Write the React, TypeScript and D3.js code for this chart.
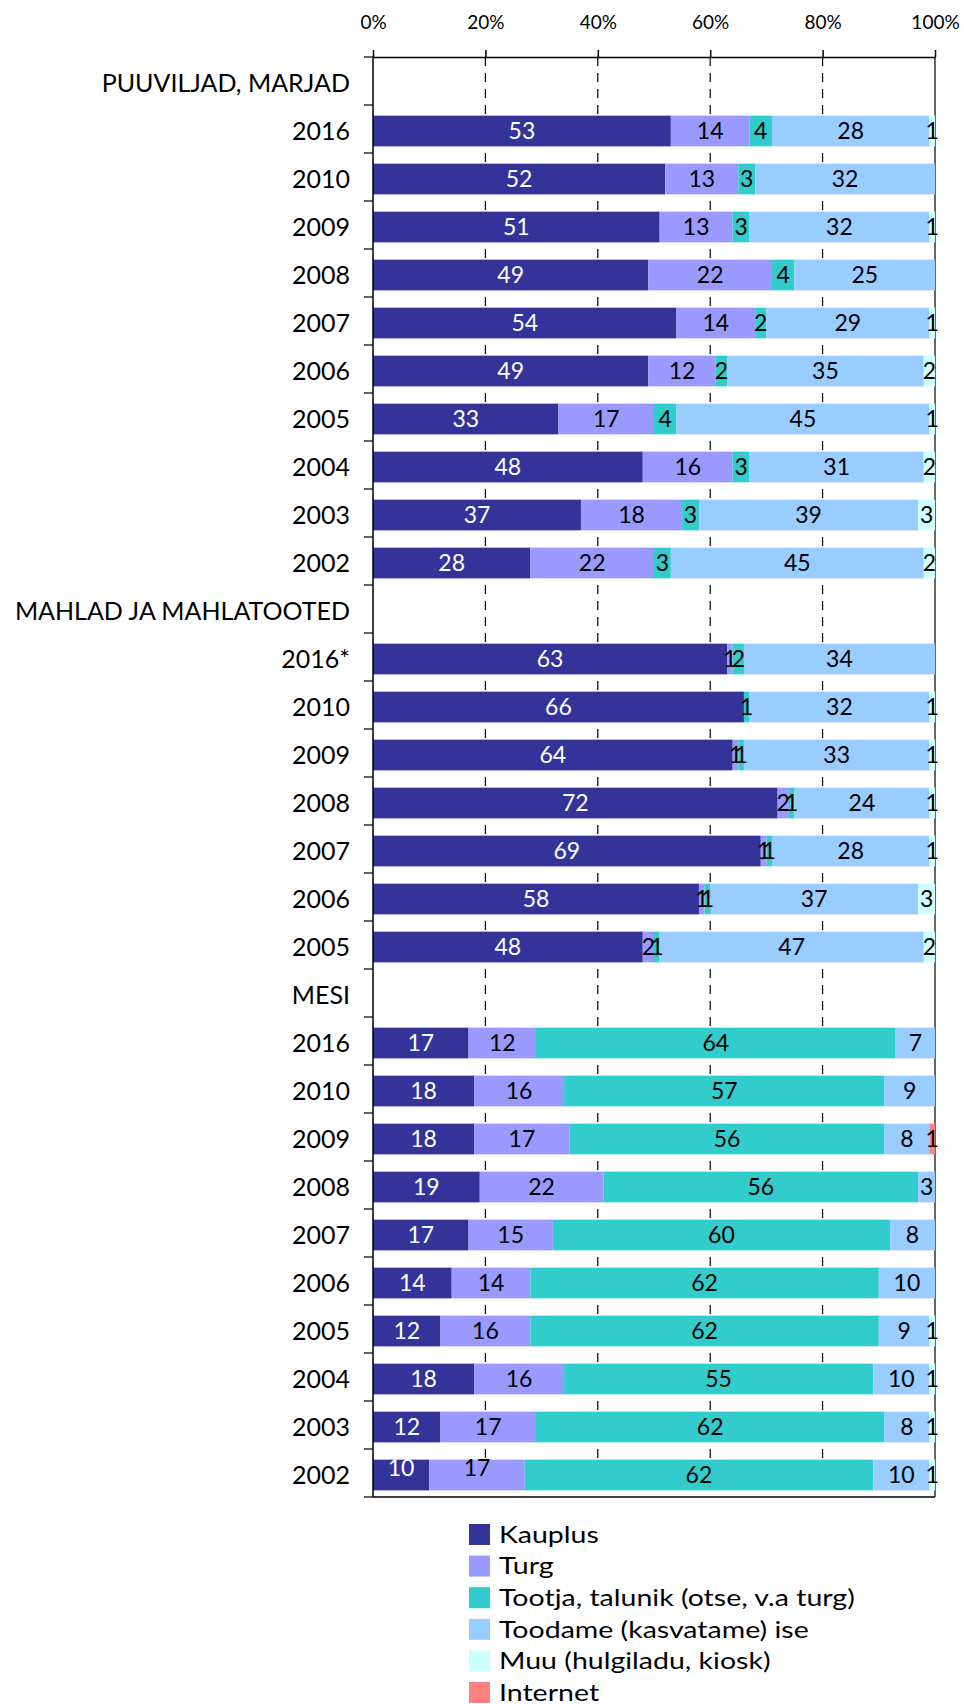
import React, { useRef, useEffect } from "react";
import * as d3 from "d3";

// legend order = stack order
const seriesNames = [
  "Kauplus",
  "Turg",
  "Tootja, talunik (otse, v.a turg)",
  "Toodame (kasvatame) ise",
  "Muu (hulgiladu, kiosk)",
  "Internet",
];
const seriesColors = ["#333399", "#9999ff", "#33cccc", "#99ccff", "#ccffff", "#ff8080"];

const groupNames = ["PUUVILJAD, MARJAD", "MAHLAD JA MAHLATOOTED", "MESI"];

const fruitYears = ["2016", "2010", "2009", "2008", "2007", "2006", "2005", "2004", "2003", "2002"];
// Kauplus, Turg, Tootja, Toodame ise, Muu, Internet
const fruitValues = [
  [53, 14, 4, 28, 1, 0],
  [52, 13, 3, 32, 0, 0],
  [51, 13, 3, 32, 1, 0],
  [49, 22, 4, 25, 0, 0],
  [54, 14, 2, 29, 1, 0],
  [49, 12, 2, 35, 2, 0],
  [33, 17, 4, 45, 1, 0],
  [48, 16, 3, 31, 2, 0],
  [37, 18, 3, 39, 3, 0],
  [28, 22, 3, 45, 2, 0],
];

const juiceYears = ["2016*", "2010", "2009", "2008", "2007", "2006", "2005"];
const juiceValues = [
  [63, 1, 2, 34, 0, 0],
  [66, 0, 1, 32, 1, 0],
  [64, 1, 1, 33, 1, 0],
  [72, 2, 1, 24, 1, 0],
  [69, 1, 1, 28, 1, 0],
  [58, 1, 1, 37, 3, 0],
  [48, 2, 1, 47, 2, 0],
];

const honeyYears = ["2016", "2010", "2009", "2008", "2007", "2006", "2005", "2004", "2003", "2002"];
const honeyValues = [
  [17, 12, 64, 7, 0, 0],
  [18, 16, 57, 9, 0, 0],
  [18, 17, 56, 8, 0, 1],
  [19, 22, 56, 3, 0, 0],
  [17, 15, 60, 8, 0, 0],
  [14, 14, 62, 10, 0, 0],
  [12, 16, 62, 9, 1, 0],
  [18, 16, 55, 10, 1, 0],
  [12, 17, 62, 8, 1, 0],
  [10, 17, 62, 10, 1, 0],
];

const xTicks = [0, 20, 40, 60, 80, 100];

const FONT = "Lato, 'Open Sans', sans-serif";

function App() {
  const svgRef = useRef<SVGSVGElement>(null);

  useEffect(() => {
    const svg = d3.select(svgRef.current);
    svg.selectAll("*").remove();

    // one row per header and per year
    const rows: { id: string; label: string; values: number[] | null; nudge: boolean }[] = [];
    const blocks = [
      [fruitYears, fruitValues],
      [juiceYears, juiceValues],
      [honeyYears, honeyValues],
    ] as [string[], number[][]][];
    blocks.forEach(([years, vals], g) => {
      rows.push({ id: "h" + g, label: groupNames[g], values: null, nudge: false });
      years.forEach((yr, i) =>
        rows.push({ id: g + "-" + i, label: yr, values: vals[i], nudge: g === 2 && i === years.length - 1 })
      );
    });

    const top = 57;
    const bottom = 1497;
    const x = d3.scaleLinear().domain([0, 100]).range([373, 935]);
    // bars sit a little low in each slot, like the original
    const y = d3
      .scaleBand()
      .domain(rows.map((r) => r.id))
      .range([top + 2, bottom + 2])
      .paddingInner(0.36)
      .paddingOuter(0.18);

    // gridlines
    svg
      .append("g")
      .selectAll("line")
      .data(xTicks.slice(1))
      .join("line")
      .attr("x1", (d) => x(d))
      .attr("x2", (d) => x(d))
      .attr("y1", top)
      .attr("y2", bottom)
      .attr("stroke", "#000")
      .attr("stroke-width", 1.2)
      .attr("stroke-dasharray", (d) => (d === 100 ? null : "9,7"));

    // bars
    const dataRows = rows.filter((r) => r.values);
    const stacked = d3
      .stack<any, number>()
      .keys(d3.range(seriesNames.length))
      .value((r, k) => r.values[k])(dataRows);

    const layers = svg
      .append("g")
      .selectAll("g")
      .data(stacked)
      .join("g")
      .attr("fill", (s) => seriesColors[s.key]);

    layers
      .selectAll("rect")
      .data((s) => s.filter((d) => d[1] > d[0]))
      .join("rect")
      .attr("x", (d) => x(d[0]))
      .attr("width", (d) => x(d[1]) - x(d[0]))
      .attr("y", (d) => y(d.data.id)!)
      .attr("height", y.bandwidth());

    // value labels
    svg
      .append("g")
      .selectAll("g")
      .data(stacked)
      .join("g")
      .attr("fill", (s) => (s.key === 0 ? "#fff" : "#000"))
      .selectAll("text")
      .data((s) => s.filter((d) => d[1] > d[0]).map((d) => ({ d, key: s.key })))
      .join("text")
      .attr("x", ({ d }) => x((d[0] + d[1]) / 2))
      .attr("y", ({ d, key }) => y(d.data.id)! + y.bandwidth() / 2 + (d.data.nudge && key < 2 ? -7 : 0))
      .attr("dy", "0.36em")
      .attr("text-anchor", "middle")
      .attr("font-family", FONT)
      .attr("font-size", 23)
      .text(({ d }) => d[1] - d[0]);

    // top axis
    const xAxis = d3
      .axisTop(x)
      .tickValues(xTicks)
      .tickFormat((d) => d + "%")
      .tickSize(7)
      .tickSizeOuter(0)
      .tickPadding(21);
    const gx = svg.append("g").attr("transform", `translate(0,${top})`).call(xAxis);
    gx.attr("font-family", FONT).attr("font-size", 19);
    gx.selectAll("line, path").attr("stroke", "#000").attr("stroke-width", 1.5);
    gx.selectAll("text").attr("fill", "#000");

    // left axis with ticks between categories
    const step = (bottom - top) / rows.length;
    const bounds = d3.range(rows.length + 1).map((i) => top + i * step);
    const gy = svg.append("g");
    gy.append("line")
      .attr("x1", x(0))
      .attr("x2", x(0))
      .attr("y1", top)
      .attr("y2", bottom)
      .attr("stroke", "#000")
      .attr("stroke-width", 1.5);
    gy.selectAll(".tick")
      .data(bounds)
      .join("line")
      .attr("class", "tick")
      .attr("x1", x(0) - 9)
      .attr("x2", x(0))
      .attr("y1", (d) => d)
      .attr("y2", (d) => d)
      .attr("stroke", "#000")
      .attr("stroke-width", 1.2);
    svg
      .append("line")
      .attr("x1", x(0))
      .attr("x2", x(100))
      .attr("y1", bottom)
      .attr("y2", bottom)
      .attr("stroke", "#000")
      .attr("stroke-width", 1.5);

    gy.selectAll("text")
      .data(rows)
      .join("text")
      .attr("x", 350)
      .attr("y", (r) => y(r.id)! + y.bandwidth() / 2)
      .attr("dy", "0.36em")
      .attr("text-anchor", "end")
      .attr("font-family", FONT)
      .attr("font-size", 25)
      .attr("fill", "#000")
      .text((r) => r.label);

    // legend
    const legend = svg
      .append("g")
      .attr("transform", "translate(469,1524)")
      .selectAll("g")
      .data(seriesNames)
      .join("g")
      .attr("transform", (d, i) => `translate(0,${i * 31.6})`);
    legend
      .append("rect")
      .attr("width", 21)
      .attr("height", 21)
      .attr("fill", (d, i) => seriesColors[i]);
    legend
      .append("text")
      .attr("transform", "translate(30,10.5) scale(1.24,1)")
      .attr("dy", "0.36em")
      .attr("font-family", FONT)
      .attr("font-size", 23)
      .attr("fill", "#000")
      .text((d) => d);
  }, []);

  return (
    <div style={{ position: "absolute", left: 0, top: 0, width: 964, height: 1704, overflow: "hidden" }}>
      <svg ref={svgRef} width={964} height={1704} style={{ display: "block", background: "#fff" }} />
    </div>
  );
}

export default App;
